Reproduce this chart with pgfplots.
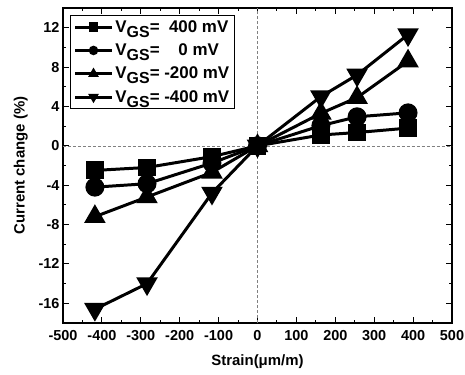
\documentclass[border=0pt]{standalone}
\usepackage{pgfplots}
\pgfplotsset{compat=1.18}
\usepackage{fontspec}
\setmainfont{Liberation Sans}
\newcommand{\sub}[1]{\raisebox{-5pt}{\fontsize{16}{16}\selectfont #1}}
\begin{document}
\begin{tikzpicture}
\begin{axis}[
  scale only axis, width=389bp, height=315bp,
  xmin=-500, xmax=500, ymin=-18, ymax=14,
  xtick={-500,-400,...,500}, ytick={-16,-12,...,12},
  minor x tick num=1, minor y tick num=1,
  tick align=inside, major tick length=6pt, minor tick length=3.5pt,
  every tick/.style={black, line width=1pt},
  axis line style={line width=1.3pt},
  ticklabel style={font=\bfseries\fontsize{14.5}{16}\selectfont},
  xticklabel style={yshift=-4pt},
  /pgf/number format/assume math mode=true,
  xlabel={Strain(μm/m)}, ylabel={Current change (\%)},
  label style={font=\bfseries\fontsize{15}{17}\selectfont},
  ylabel style={yshift=4pt},
  xlabel style={yshift=-7pt},
  legend style={at={(0.018,0.978)}, anchor=north west, draw=black, line width=1.2pt,
    font=\bfseries\fontsize{17}{18}\selectfont, row sep=6pt, inner sep=3pt},
  legend cell align=left,
  legend image code/.code={\draw[mark repeat=2,mark phase=2, mark size=3.2pt] plot coordinates {(0cm,0cm) (0.65cm,0cm) (1.3cm,0cm)};},
  every axis plot/.append style={line width=3pt, black},
]
\addplot[gray, dash dot, line width=0.6pt, forget plot] coordinates {(0,-18) (0,14)};
\addplot[gray, dash dot, line width=0.6pt, forget plot] coordinates {(-500,0) (500,0)};
\addplot[mark=square*, mark size=7.5pt] coordinates {(-418,-2.5) (-284,-2.2) (-117,-1.1) (0,0) (163,1.1) (256,1.35) (387,1.8)};
\addlegendentry{V\sub{GS}= \ 400 mV}
\addplot[mark=*, mark size=8pt] coordinates {(-418,-4.2) (-284,-3.85) (-117,-1.75) (0,0) (163,2.05) (256,2.95) (387,3.35)};
\addlegendentry{V\sub{GS}= \ \ \ 0 mV}
\addplot[mark=triangle*, mark size=9.5pt] coordinates {(-418,-7.2) (-284,-5.2) (-117,-2.7) (0,0) (163,3.3) (256,4.9) (387,8.6)};
\addlegendentry{V\sub{GS}= -200 mV}
\addplot[mark=triangle*, mark options={rotate=180}, mark size=9.5pt] coordinates {(-418,-16.6) (-284,-14.0) (-117,-4.8) (0,0) (163,5.0) (256,7.2) (387,11.3)};
\addlegendentry{V\sub{GS}= -400 mV}
\end{axis}
\pgfresetboundingbox
\path ([xshift=-63bp,yshift=-52bp]current axis.south west) rectangle ([xshift=13bp,yshift=8bp]current axis.north east);
\end{tikzpicture}
\end{document}
